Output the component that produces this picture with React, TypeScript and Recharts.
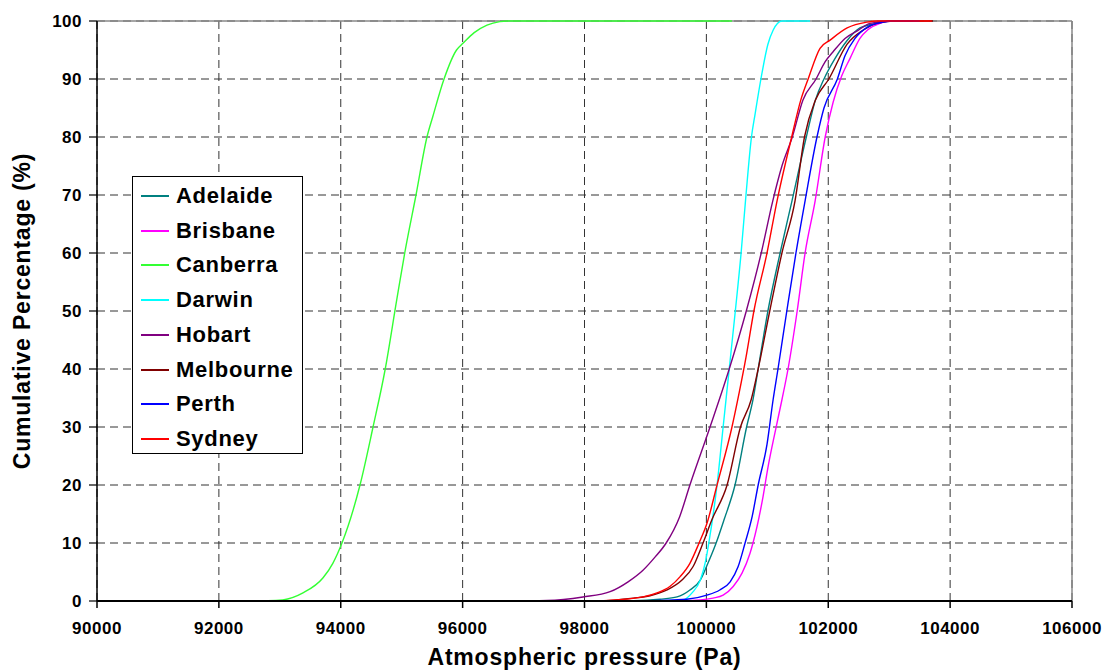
import { LineChart, Line, XAxis, YAxis, CartesianGrid, ReferenceLine } from 'recharts';

// [pressure (Pa), cumulative %]
const adelaide = [
  [96000, 0], [98800, 0.05], [99240, 0.3], [99520, 0.7], [99730, 1.9], [99900, 3.6], [100025, 6.5],
  [100160, 10], [100290, 14], [100470, 20], [100660, 30], [100765, 34.7], [100850, 40],
  [101010, 50], [101210, 60], [101405, 69], [101640, 80], [101790, 86.4], [101930, 90],
  [102110, 93.5], [102300, 96.5], [102520, 98.8], [102800, 99.6], [103000, 100], [103400, 100],
];
const brisbane = [
  [91120, 0], [99500, 0.05], [99900, 0.2], [100110, 0.5], [100275, 1], [100440, 2.5], [100585, 4.8],
  [100715, 8.2], [100765, 10], [100930, 18], [101010, 23], [101125, 29], [101240, 34.7],
  [101340, 40], [101490, 50], [101620, 60], [101785, 69], [101950, 80], [102080, 86],
  [102220, 90.5], [102360, 93.6], [102520, 97], [102650, 98.5], [102850, 99.6], [103010, 100], [103300, 100],
];
const canberra = [
  [92250, 0], [92800, 0.05], [93050, 0.2], [93380, 1.4], [93710, 4], [93870, 6.5], [94020, 10],
  [94316, 20], [94530, 30], [94730, 40], [94920, 52], [95050, 60], [95235, 70], [95415, 80],
  [95510, 83.5], [95695, 90], [95900, 95], [96010, 96.2], [96190, 98], [96400, 99.3],
  [96610, 99.9], [96740, 100], [100420, 100],
];
const darwin = [
  [98500, 0], [99300, 0.05], [99620, 0.2], [99765, 1.4], [99900, 3.6], [99990, 7], [100040, 10],
  [100175, 20], [100275, 30], [100375, 40], [100475, 50], [100570, 60], [100650, 70],
  [100740, 80], [100800, 84], [100895, 90], [101010, 96], [101095, 98.4], [101240, 100],
  [101700, 100],
];
const hobart = [
  [96500, 0], [97385, 0.1], [97975, 0.7], [98420, 1.6], [98715, 3.3], [98960, 5.3], [99160, 7.6],
  [99340, 10], [99560, 14.5], [99730, 20], [100060, 30], [100375, 40], [100655, 50],
  [100900, 60], [101090, 69], [101240, 75], [101410, 80], [101585, 86.4], [101800, 90],
  [101950, 93], [102080, 94.7], [102275, 97], [102490, 98.4], [102685, 99.6], [103060, 100],
  [103400, 100],
];
const melbourne = [
  [96000, 0], [98250, 0.05], [98800, 0.5], [99075, 0.9], [99355, 1.9], [99600, 3.6], [99780, 5.9],
  [99945, 10], [100090, 14], [100340, 20], [100560, 30], [100735, 34.7], [100850, 40],
  [101040, 50], [101240, 60], [101455, 69], [101610, 80], [101790, 86.4], [102010, 90],
  [102310, 96], [102570, 98.4], [102800, 99.6], [103100, 100], [103720, 100],
];
const perth = [
  [96000, 0], [99075, 0.05], [99680, 0.3], [100010, 1], [100220, 1.9], [100390, 3.3], [100520, 5.9],
  [100635, 10], [100750, 14.5], [100850, 20], [100995, 27], [101095, 34.7], [101175, 40],
  [101320, 50], [101470, 60], [101620, 69], [101815, 80], [101930, 85], [102150, 90],
  [102275, 94], [102440, 97], [102650, 99], [102900, 99.8], [103100, 100], [103500, 100],
];
const sydney = [
  [95500, 0], [98090, 0.05], [98530, 0.2], [98960, 0.7], [99190, 1.4], [99400, 2.5], [99570, 4.2],
  [99730, 6.5], [99880, 10], [100010, 13.4], [100175, 20], [100420, 30], [100540, 36],
  [100650, 42], [100780, 50], [100995, 60], [101160, 69], [101400, 80], [101550, 86.4],
  [101670, 90], [101865, 95.3], [102030, 96.7], [102310, 98.8], [102635, 99.8], [102800, 100],
  [103700, 100],
];

const cities = ['Adelaide', 'Brisbane', 'Canberra', 'Darwin', 'Hobart', 'Melbourne', 'Perth', 'Sydney'];
const cityData = [adelaide, brisbane, canberra, darwin, hobart, melbourne, perth, sydney];
const cityColors = ['#008080', '#ff00ff', '#33ff33', '#00ffff', '#800080', '#800000', '#0000ff', '#ff0000'];

const pressureTicks = [90000, 92000, 94000, 96000, 98000, 100000, 102000, 104000, 106000];
const percentTicks = [0, 10, 20, 30, 40, 50, 60, 70, 80, 90, 100];

const FONT = '"Liberation Sans", Arial, sans-serif';
const W = 1109;
const H = 670;
const LEFT = 97;
const RIGHT = 1072;
const TOP = 21;
const BOTTOM = 601;

const tickStyle = { fill: '#000', fontSize: 17, fontWeight: 'bold', fontFamily: FONT, letterSpacing: 0.5 };

const Legend = () => (
  <div style={{
    position: 'absolute', left: 132, top: 176, width: 169, height: 276,
    border: '1px solid #000', background: '#fff', boxSizing: 'content-box',
  }}>
    {cities.map((c, i) => (
      <div key={c} style={{ position: 'absolute', left: 0, top: 4 + i * 34.7, height: 30, display: 'flex', alignItems: 'center' }}>
        <div style={{ width: 28, height: 2, background: cityColors[i], marginLeft: 8, marginRight: 7 }} />
        <span style={{ fontFamily: FONT, fontWeight: 'bold', fontSize: 22, letterSpacing: 0.7, color: '#000', whiteSpace: 'nowrap' }}>{c}</span>
      </div>
    ))}
  </div>
);

export default function App() {
  return (
    <div style={{ position: 'absolute', left: 0, top: 0, width: W, height: H, background: '#fff' }}>
      <LineChart width={W} height={H} margin={{ top: TOP, right: W - RIGHT, left: 0, bottom: 0 }}>
        <CartesianGrid
          strokeDasharray="8 5"
          stroke="#333"
          horizontalValues={percentTicks}
          verticalValues={pressureTicks}
        />
        <XAxis
          type="number"
          dataKey="p"
          domain={[90000, 106000]}
          ticks={pressureTicks}
          allowDataOverflow
          height={H - BOTTOM}
          tick={tickStyle}
          tickSize={7}
          tickMargin={14}
          axisLine={{ stroke: '#000', strokeWidth: 2 }}
          tickLine={{ stroke: '#000', strokeWidth: 1.5 }}
          label={{
            content: () => (
              <text x={(LEFT + RIGHT) / 2} y={665} textAnchor="middle" fontFamily={FONT} fontWeight="bold" fontSize={23} letterSpacing={0.8} fill="#000">
                Atmospheric pressure (Pa)
              </text>
            ),
          }}
        />
        <YAxis
          type="number"
          dataKey="v"
          domain={[0, 100]}
          ticks={percentTicks}
          width={LEFT}
          tick={tickStyle}
          tickSize={8}
          tickMargin={7}
          axisLine={{ stroke: '#000', strokeWidth: 1.5 }}
          tickLine={{ stroke: '#000', strokeWidth: 1.2 }}
          label={{
            content: () => (
              <text
                x={22}
                y={(TOP + BOTTOM) / 2}
                transform={`rotate(-90, 22, ${(TOP + BOTTOM) / 2})`}
                textAnchor="middle"
                dominantBaseline="central"
                fontFamily={FONT}
                fontWeight="bold"
                fontSize={23}
                letterSpacing={0.8}
                fill="#000"
              >
                Cumulative Percentage (%)
              </text>
            ),
          }}
        />
        <ReferenceLine y={100} stroke="#888" strokeWidth={1.5} />
        <ReferenceLine x={106000} stroke="#888" strokeWidth={1.5} />
        {cities.map((c, i) => (
          <Line
            key={c}
            name={c}
            data={cityData[i].map(([p, v]) => ({ p, v }))}
            dataKey="v"
            type="monotone"
            stroke={cityColors[i]}
            strokeWidth={1.4}
            dot={false}
            activeDot={false}
            isAnimationActive={false}
          />
        ))}
      </LineChart>
      <Legend />
    </div>
  );
}
